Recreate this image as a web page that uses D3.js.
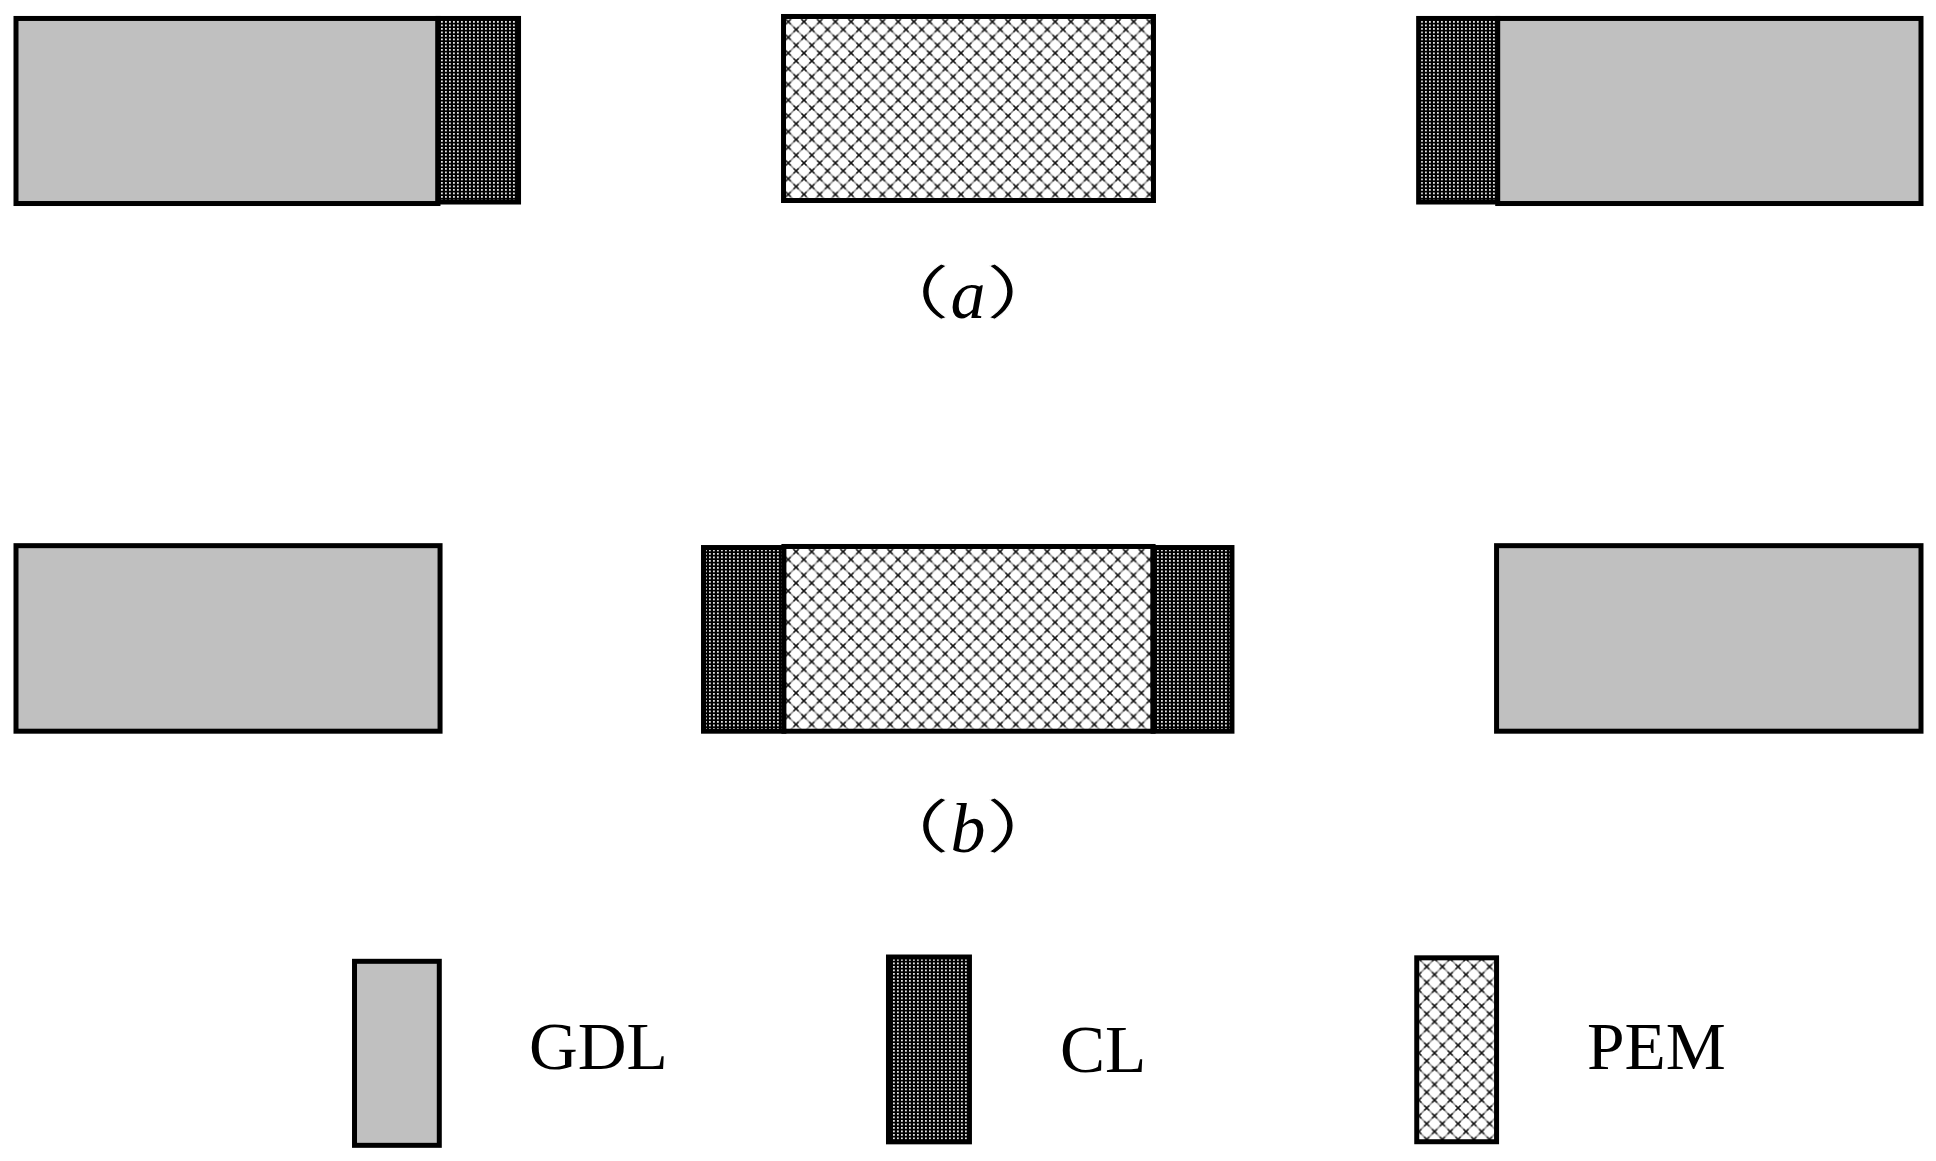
<!DOCTYPE html>
<html>
<head>
<meta charset="utf-8">
<script src="https://cdn.jsdelivr.net/npm/d3@7"></script>
<style>
  html, body { margin: 0; padding: 0; background: #fff; }
  svg { display: block; }
  text { font-family: "Liberation Serif", serif; fill: #000; }
</style>
</head>
<body>
<svg width="1936" height="1161"></svg>
<script>
// layer order across the cell, values in drawing units (0-1000)
const panelLayers = ["GDL", "CL", "PEM", "CL", "GDL"];

const panelAStart = [0, 221.5, 402.9, 736.3, 777.8];
const panelAEnd = [221.5, 263.8, 597.1, 777.8, 1000];
const panelATop = [15.9, 15.9, 14.2, 15.9, 15.9];
const panelABottom = [175.3, 174.0, 172.7, 174.0, 175.3];

const panelBStart = [0, 360.9, 403.1, 596.9, 777.2];
const panelBEnd = [222.6, 403.1, 596.9, 638.3, 1000];
const panelBTop = [470.0, 471.6, 470.7, 471.6, 470.0];
const panelBBottom = [629.8, 629.8, 629.8, 629.8, 629.8];

const legendNames = ["GDL", "CL", "PEM"];
const legendStart = [177.7, 458.0, 735.3];
const legendEnd = [222.2, 500.5, 777.2];
const legendTop = [828.0, 824.3, 825.0];
const legendBottom = [986.5, 983.5, 983.4];
const legendLabelX = [529, 1060, 1587];

const panelLabels = ["a", "b"];

const x = d3.scaleLinear().domain([0, 1000]).range([16, 1921]);
const y = d3.scaleLinear().domain([0, 1000]).range([0, 1161]);

const svg = d3.select("svg");
const defs = svg.append("defs");

// dense dotted fill of the catalyst layer
const clPat = defs.append("pattern")
  .attr("id", "clFill")
  .attr("patternUnits", "userSpaceOnUse")
  .attr("width", 8)
  .attr("height", 7);
clPat.append("rect").attr("width", 8).attr("height", 7).attr("fill", "#000");
[[1, 0], [5, 0], [1, 3.5], [5, 3.5]].forEach(([dx, dy]) => {
  clPat.append("rect")
    .attr("x", dx).attr("y", dy)
    .attr("width", 1.8).attr("height", 1.8)
    .attr("fill", "#e4e4e4");
});

// lattice fill of the membrane, one pattern per box because the phase differs
function pemPattern(id, ox, oy) {
  const w = 15.7;
  const p = defs.append("pattern")
    .attr("id", id)
    .attr("patternUnits", "userSpaceOnUse")
    .attr("width", w)
    .attr("height", w)
    .attr("patternTransform", `translate(${ox},${oy})`);
  p.append("rect").attr("width", w).attr("height", w).attr("fill", "#fff");
  p.append("path")
    .attr("d", `M0,0L${w},${w}M${w},0L0,${w}`)
    .attr("stroke", "#8a8a8a")
    .attr("stroke-width", 1.4);
  // the crossings are darker than the lines between them
  const knots = [[0, 0], [w, 0], [0, w], [w, w], [w / 2, w / 2]];
  p.append("path")
    .attr("d", knots.map(([cx, cy]) =>
      `M${cx - 2.5},${cy - 2.5}L${cx + 2.5},${cy + 2.5}M${cx + 2.5},${cy - 2.5}L${cx - 2.5},${cy + 2.5}`).join(""))
    .attr("stroke", "#111")
    .attr("stroke-width", 1.4);
}
pemPattern("pemA", 788.3, 21.7);
pemPattern("pemB", 796, 551.7);
pemPattern("pemL", 1426.7, 966.7);

function fillFor(name, pem) {
  if (name === "GDL") return "#c0c0c0";
  if (name === "CL") return "url(#clFill)";
  return `url(#${pem})`;
}

function drawBoxes(names, start, end, top, bottom, pem) {
  svg.append("g")
    .selectAll("rect")
    .data(names)
    .join("rect")
    .attr("x", (d, i) => x(start[i]))
    .attr("y", (d, i) => y(top[i]))
    .attr("width", (d, i) => x(end[i]) - x(start[i]))
    .attr("height", (d, i) => y(bottom[i]) - y(top[i]))
    .attr("fill", (d) => fillFor(d, pem))
    .attr("stroke", "#000")
    .attr("stroke-width", 5);
}

drawBoxes(panelLayers, panelAStart, panelAEnd, panelATop, panelABottom, "pemA");
drawBoxes(panelLayers, panelBStart, panelBEnd, panelBTop, panelBBottom, "pemB");
drawBoxes(legendNames, legendStart, legendEnd, legendTop, legendBottom, "pemL");

// legend names
svg.append("g")
  .selectAll("text")
  .data(legendNames)
  .join("text")
  .text((d) => d)
  .attr("x", (d, i) => legendLabelX[i])
  .attr("y", (d, i) => (d === "CL" ? 1072 : 1069))
  .attr("font-size", 67.5);

// panel captions
const capY = [318, 852];
const cap = svg.append("g")
  .selectAll("g")
  .data(panelLabels)
  .join("g");

// the brackets are wider and thinner than this font draws them
function bracket(sel, ch, bx) {
  sel.append("text")
    .text(ch)
    .attr("transform", (d, i) => `translate(${bx},${capY[i] - 4}) scale(1.6,1)`)
    .attr("font-size", 58)
    .attr("stroke", "#fff")
    .attr("stroke-width", 0.8)
    .style("font-family", '"Noto Sans CJK SC"');
}
bracket(cap, "（", 858);
bracket(cap, "）", 985);

cap.append("text")
  .text((d) => d)
  .attr("x", 968)
  .attr("y", (d, i) => capY[i])
  .attr("text-anchor", "middle")
  .attr("font-size", 70)
  .attr("font-style", "italic");
</script>
</body>
</html>
